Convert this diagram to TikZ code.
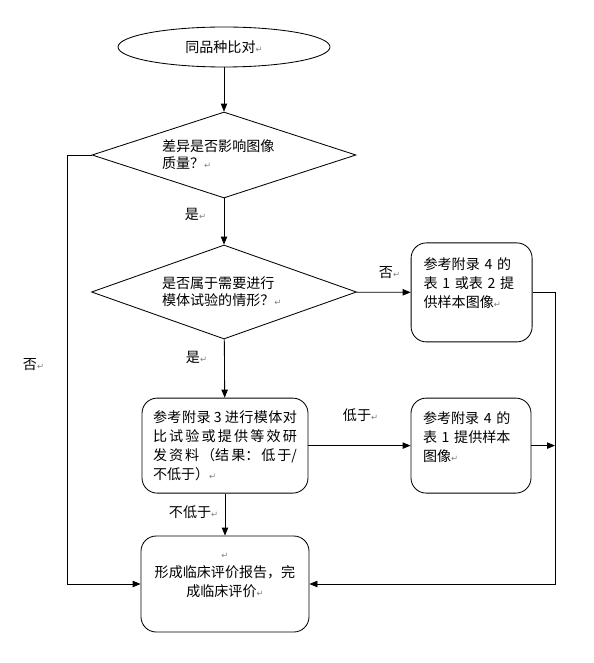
\documentclass[tikz,border=0pt]{standalone}
\usepackage{fontspec}
\setmainfont{Noto Sans CJK SC}
\newfontfamily\markfont{DejaVu Sans}
\usetikzlibrary{arrows.meta, shapes.geometric}
\XeTeXlinebreaklocale "zh"
\XeTeXlinebreakskip=0pt

\newcommand{\retmark}{{\markfont\fontsize{6}{6}\selectfont\textcolor{gray}{↵}}}
\newcommand{\cjkstretch}{\XeTeXlinebreakskip=0pt plus 4pt\relax}

\tikzset{
  every node/.style={font=\fontsize{10pt}{13.5pt}\selectfont},
  startnode/.style={draw, ellipse, line width=0.6pt, minimum width=5.3cm, minimum height=1cm, inner sep=0pt},
  decision/.style={draw, diamond, line width=0.6pt, inner sep=0pt, align=left, aspect=3, font=\fontsize{10pt}{12pt}\selectfont},
  stepbox/.style={draw, rounded corners=0.38cm, line width=0.6pt, inner sep=0pt},
  arr/.style={line width=0.6pt, -{Triangle[length=2mm, width=1.6mm]}},
}

\begin{document}
\begin{tikzpicture}
\useasboundingbox (0,0) rectangle (14.85,-16.575);

% main column
\node[startnode] (start) at (5.6,-1.175) {同品种比对\retmark};
\node[decision, minimum width=6.6cm, minimum height=2.15cm, text width=3.1cm] (q1) at (5.6,-3.875) {差异是否影响图像\\质量？\retmark};
\node[decision, minimum width=6.625cm, minimum height=2.35cm, text width=3.1cm] (q2) at (5.6,-7.3) {是否属于需要进行\\模体试验的情形？\retmark};
\node[stepbox, minimum width=4.15cm, minimum height=2.375cm, text width=3.6cm, align=justify] (test) at (5.625,-11.14)
  {\cjkstretch 参考附录 3 进行模体对\linebreak 比试验或提供等效研\linebreak 发资料（结果：低于/\linebreak 不低于）\retmark};
\node[stepbox, minimum width=4.2cm, minimum height=2.4cm, text width=3.8cm, align=center] (report) at (5.625,-14.6) {\retmark\\形成临床评价报告，完\\成临床评价\retmark\\ \mbox{}};

% right column
\node[stepbox, minimum width=3.025cm, minimum height=2.475cm, text width=2.4cm, align=left] (img2) at (11.79,-7.31) {参考附录 4 的\\表 1 或表 2 提\\供样本图像\retmark\\ \mbox{}};
\node[stepbox, minimum width=3.0cm, minimum height=2.375cm, text width=2.4cm, align=left] (img1) at (11.775,-11.14) {参考附录 4 的\\表 1 提供样本\\图像\retmark\\ \mbox{}};

% helper points
\coordinate (lbot) at (1.675,-14.6);
\coordinate (rbot) at (13.875,-14.6);
\coordinate (rmid) at (13.875,-11.14);

% labels
\node[anchor=west] (yes1) at (4.5,-5.35) {是\retmark};
\node[anchor=west] (yes2) at (4.525,-8.925) {是\retmark};
\node[anchor=west] (no2) at (9.35,-6.825) {否\retmark};
\node[anchor=west] (lower) at (8.45,-10.375) {低于\retmark};
\node[anchor=west] (notlower) at (4.1,-12.8) {不低于\retmark};
\node[anchor=west] (no1) at (0.45,-9.125) {否\retmark};

% connectors
\draw[arr] (start) -- (q1);
\draw[arr] (q1) -- (q2);
\draw[arr] (q2) -- (test);
\draw[arr] (test) -- (report);
\draw[arr] (q2) -- (img2);
\draw[arr] (test) -- (img1);
\draw[arr] (q1.west) -| (lbot) -- (report.west);
\draw[arr] (img2.east) -| (rbot) -- (report.east);
\draw[arr] (img1.east) -- (rmid);

\end{tikzpicture}
\end{document}
